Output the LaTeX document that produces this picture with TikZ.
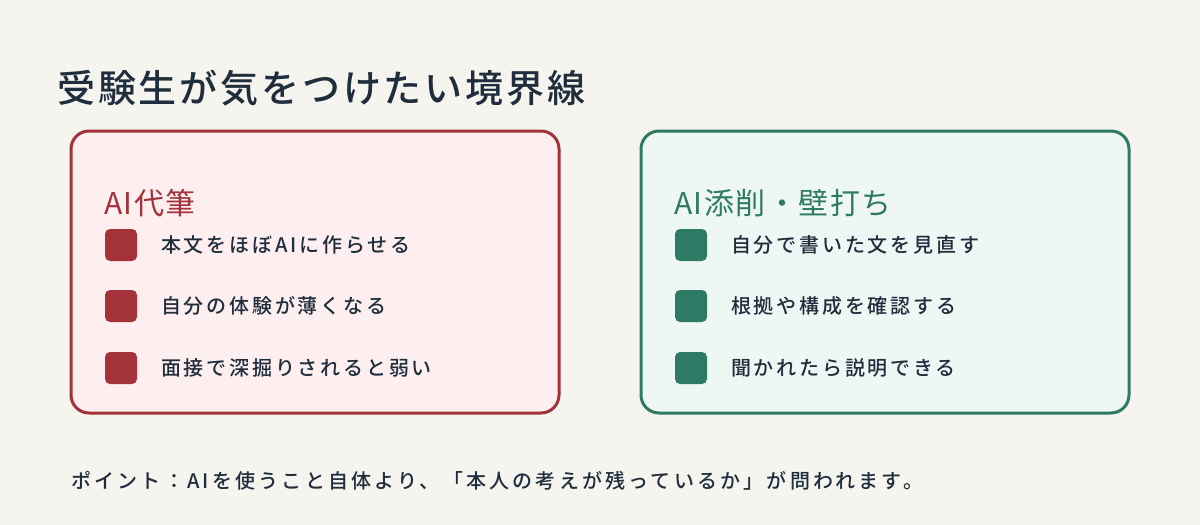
\documentclass[tikz,border=0pt]{standalone}
\usepackage{fontspec}
\setmainfont{Noto Sans CJK JP}[BoldFont={Noto Sans CJK JP Medium}]
\definecolor{bg}{HTML}{F5F4EE}
\definecolor{ink}{HTML}{1F2D3D}
\definecolor{rd}{HTML}{A3323A}
\definecolor{rdfill}{HTML}{FDEFEF}
\definecolor{gn}{HTML}{2E7A65}
\definecolor{gnfill}{HTML}{EEF7F3}
\tikzset{
 panel/.style={draw=#1, line width=3pt, rounded corners=18pt},
 sq/.style={fill=#1, rounded corners=5pt, minimum width=32pt, minimum height=32pt, inner sep=0pt},
 item/.style={anchor=west, text=ink, font=\fontsize{20}{24}\selectfont\bfseries\addfontfeature{LetterSpace=14}, inner sep=0pt},
 head/.style={anchor=west, text=#1, font=\fontsize{30}{36}\selectfont\addfontfeature{LetterSpace=5}, inner sep=0pt}
}
\begin{document}
\begin{tikzpicture}[x=1pt,y=-1pt]
\fill[bg] (0,0) rectangle (1200,525);
\useasboundingbox (0,0) rectangle (1200,525);
\node[anchor=west, text=ink, font=\fontsize{38}{44}\selectfont\bfseries\addfontfeature{LetterSpace=7.5}, inner sep=0pt] (title) at (57,88) {受験生が気をつけたい境界線};
\filldraw[panel=rd, fill=rdfill] (71,131) rectangle (559,413);
\filldraw[panel=gn, fill=gnfill] (641,131) rectangle (1129,413);
\node[head=rd] (h1) at (104,203) {AI代筆};
\node[head=gn] (h2) at (674,203) {AI添削・壁打ち};
\foreach \y/\t [count=\i] in {245/本文をほぼAIに作らせる,306/自分の体験が薄くなる,368/面接で深掘りされると弱い}{
 \node[sq=rd] (ls\i) at (121,\y) {};
 \node[item] (lt\i) at (161,\y) {\t};
}
\foreach \y/\t [count=\i] in {245/自分で書いた文を見直す,306/根拠や構成を確認する,368/聞かれたら説明できる}{
 \node[sq=gn] (rs\i) at (691,\y) {};
 \node[item] (rt\i) at (731,\y) {\t};
}
\node[item, font=\fontsize{20}{24}\selectfont\bfseries\addfontfeature{LetterSpace=16}] (foot) at (71,481) {ポイント：AIを使うこと自体より、「本人の考えが残っているか」が問われます。};
\end{tikzpicture}
\end{document}
